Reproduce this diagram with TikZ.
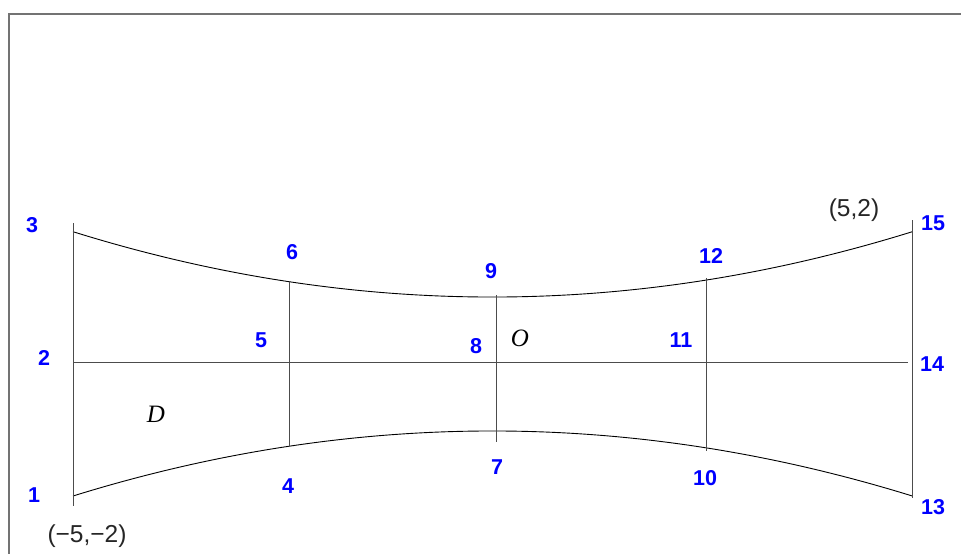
\documentclass[tikz,border=0pt]{standalone}
\usepackage{fontspec}
\setmainfont{Liberation Sans}
\newfontfamily\serifit{Liberation Serif}
\begin{document}
\begin{tikzpicture}[x=1pt,y=-1pt,
  meshline/.style={draw=black!70,line width=1pt},
  curveline/.style={draw=black,line width=0.9pt},
  numlbl/.style={text=blue,font=\fontsize{21.5}{22}\selectfont\bfseries,inner sep=0pt},
  coordlbl/.style={text=black!85,font=\fontsize{24.5}{25}\selectfont,inner sep=0pt},
  domlbl/.style={text=black,font=\fontsize{25}{25}\selectfont\serifit\itshape,inner sep=0pt},
  frameline/.style={draw=black!55,line width=2pt}]
\useasboundingbox (0,0) rectangle (961,554);
% frame
\coordinate (fTR) at (962,14);
\coordinate (fTL) at (9,14);
\coordinate (fBL) at (9,555);
\draw[frameline] (fTR) -- (fTL) -- (fBL);
% mesh points
\coordinate (p1) at (73,496);
\coordinate (p3) at (73,231.7);
\coordinate (p13) at (912.3,496);
\coordinate (p15) at (912.3,231.7);
\coordinate (c1) at (352.3,318.8);
\coordinate (c2) at (632,318.8);
\coordinate (d1) at (352.3,409.3);
\coordinate (d2) at (632,409.3);
\coordinate (lTop) at (73,223);
\coordinate (lBot) at (73,506);
\coordinate (rTop) at (912.3,220);
\coordinate (rBot) at (912.3,498);
\coordinate (p2) at (73,362.7);
\coordinate (p14) at (907.7,362.7);
\coordinate (p6) at (289.3,281.7);
\coordinate (p4) at (289.3,446);
\coordinate (p9) at (496.7,295);
\coordinate (p7) at (496.7,442);
\coordinate (p12) at (706.7,278.3);
\coordinate (p10) at (706.7,451);
% curves
\draw[curveline] (p3) .. controls (c1) and (c2) .. (p15);
\draw[curveline] (p1) .. controls (d1) and (d2) .. (p13);
% lines
\draw[meshline] (lTop) -- (lBot);
\draw[meshline] (rTop) -- (rBot);
\draw[meshline] (p2) -- (p14);
\draw[meshline] (p6) -- (p4);
\draw[meshline] (p9) -- (p7);
\draw[meshline] (p12) -- (p10);
% labels
\node[numlbl] (l1) at (34,495) {1};
\node[numlbl] (l2) at (44,358) {2};
\node[numlbl] (l3) at (32,225) {3};
\node[numlbl] (l4) at (288,486) {4};
\node[numlbl] (l5) at (261,340) {5};
\node[numlbl] (l6) at (292,252) {6};
\node[numlbl] (l7) at (497,467) {7};
\node[numlbl] (l8) at (476,346) {8};
\node[numlbl] (l9) at (491,271) {9};
\node[numlbl] (l10) at (705,478) {10};
\node[numlbl] (l11) at (681,340) {11};
\node[numlbl] (l12) at (711,256) {12};
\node[numlbl] (l13) at (933,507) {13};
\node[numlbl] (l14) at (932,364) {14};
\node[numlbl] (l15) at (933,223) {15};
\node[coordlbl] (cA) at (854,210) {(5,2)};
\node[coordlbl] (cB) at (87,536) {(\char"2212 5,\char"2212 2)};
\node[domlbl] (dD) at (156,414) {D};
\node[domlbl] (dO) at (520,338) {O};
\end{tikzpicture}
\end{document}
